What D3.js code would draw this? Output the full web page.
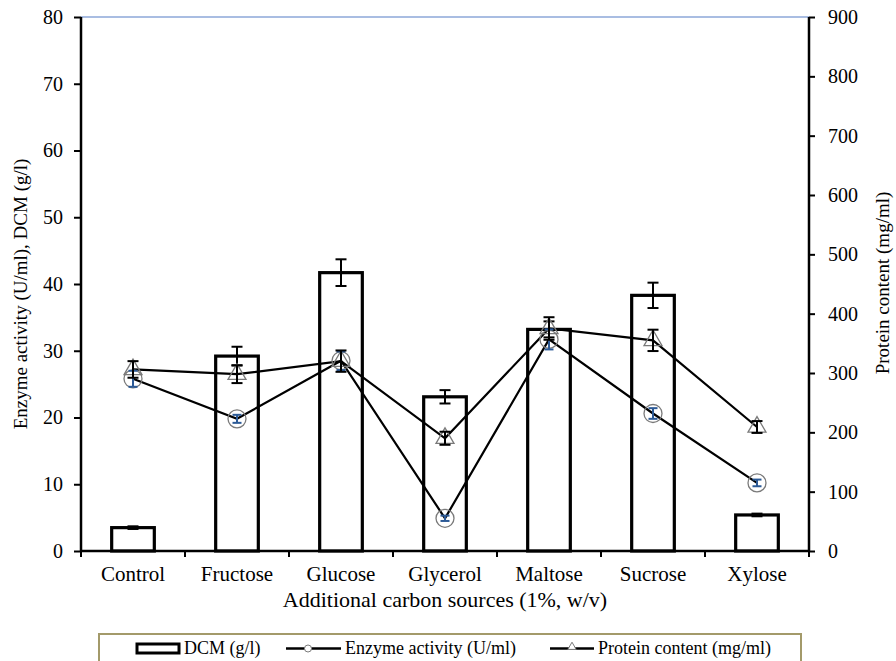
<!DOCTYPE html>
<html>
<head>
<meta charset="utf-8">
<script src="https://cdn.jsdelivr.net/npm/d3@7"></script>
<style>
    body { margin: 0; background: #fff; }
    svg text { font-family: "Liberation Serif", "Times New Roman", serif !important; }
</style>
</head>
<body>
<svg id="chart" width="896" height="661"></svg>
<script>
// values
const categories = ["Control", "Fructose", "Glucose", "Glycerol", "Maltose", "Sucrose", "Xylose"];
const dcm = [3.5, 29.2, 41.7, 23.1, 33.2, 38.3, 5.4];
const dcmErr = [0.2, 1.4, 2.0, 1.0, 1.2, 1.9, 0.2];
const enzyme = [25.8, 19.8, 28.5, 4.9, 31.7, 20.6, 10.2];
const enzymeErr = [1.2, 0.6, 1.4, 0.4, 1.5, 0.8, 0.5];
const protein = [306, 298, 320, 190, 375, 355, 209];
const proteinErr = [14, 15, 18, 11, 19, 18, 10];
const leftTicks = [0, 10, 20, 30, 40, 50, 60, 70, 80];
const rightTicks = [0, 100, 200, 300, 400, 500, 600, 700, 800, 900];

let svg = d3.select("#chart"),
    margin = {top: 17, right: 87, bottom: 110, left: 81},
    width = 896 - margin.left - margin.right,
    height = 661 - margin.top - margin.bottom,
    g = svg.append("g").attr("transform", "translate(" + margin.left + "," + margin.top + ")");

let x = d3.scaleBand().domain(categories).range([0, width]);
let yL = d3.scaleLinear().domain([0, 80]).range([height, 0]);
let yR = d3.scaleLinear().domain([0, 900]).range([height, 0]);
let barW = x.bandwidth() * 0.41;
let cx = function (i) { return x(categories[i]) + x.bandwidth() / 2; };

// top border
g.append("line")
    .attr("x1", 0).attr("x2", width)
    .attr("y1", 0).attr("y2", 0)
    .attr("stroke", "#a9bde2").attr("stroke-width", 2);

// DCM bars
g.selectAll(".bar")
    .data(dcm)
    .enter().append("rect")
    .attr("class", "bar")
    .attr("x", function (d, i) { return cx(i) - barW / 2; })
    .attr("y", function (d) { return yL(d); })
    .attr("width", barW)
    .attr("height", function (d) { return height - yL(d); })
    .attr("fill", "#fff")
    .attr("stroke", "#000")
    .attr("stroke-width", 3.2);

function errBars(vals, errs, scale, color, cap, cls) {
    let eg = g.selectAll("." + cls)
        .data(vals)
        .enter().append("g")
        .attr("class", cls)
        .attr("stroke", color)
        .attr("stroke-width", 2);
    eg.append("line")
        .attr("x1", function (d, i) { return cx(i); })
        .attr("x2", function (d, i) { return cx(i); })
        .attr("y1", function (d, i) { return scale(d - errs[i]); })
        .attr("y2", function (d, i) { return scale(d + errs[i]); });
    [1, -1].forEach(function (s) {
        eg.append("line")
            .attr("x1", function (d, i) { return cx(i) - cap; })
            .attr("x2", function (d, i) { return cx(i) + cap; })
            .attr("y1", function (d, i) { return scale(d + s * errs[i]); })
            .attr("y2", function (d, i) { return scale(d + s * errs[i]); });
    });
}

errBars(dcm, dcmErr, yL, "#000", 5.5, "err-dcm");

let line = function (scale) {
    return d3.line()
        .x(function (d, i) { return cx(i); })
        .y(function (d) { return scale(d); });
};

g.append("path")
    .datum(enzyme)
    .attr("fill", "none").attr("stroke", "#000").attr("stroke-width", 2.2)
    .attr("d", line(yL));

g.append("path")
    .datum(protein)
    .attr("fill", "none").attr("stroke", "#000").attr("stroke-width", 2.2)
    .attr("d", line(yR));

// markers
g.selectAll(".circ")
    .data(enzyme)
    .enter().append("circle")
    .attr("class", "circ")
    .attr("cx", function (d, i) { return cx(i); })
    .attr("cy", function (d) { return yL(d); })
    .attr("r", 9)
    .attr("fill", "none")
    .attr("stroke", "#7a7a7a")
    .attr("stroke-width", 1.3);

let tri = d3.symbol().type(d3.symbolTriangle).size(140);
g.selectAll(".tri")
    .data(protein)
    .enter().append("path")
    .attr("class", "tri")
    .attr("transform", function (d, i) { return "translate(" + cx(i) + "," + yR(d) + ")"; })
    .attr("d", tri)
    .attr("fill", "none")
    .attr("stroke", "#7a7a7a")
    .attr("stroke-width", 1.3);

errBars(enzyme, enzymeErr, yL, "#2c5a96", 4.5, "err-enz");
errBars(protein, proteinErr, yR, "#000", 5.5, "err-prot");

// axes
let axL = g.append("g")
    .call(d3.axisLeft(yL).tickValues(leftTicks).tickSize(7).tickPadding(11));
let axR = g.append("g")
    .attr("transform", "translate(" + width + ",0)")
    .call(d3.axisRight(yR).tickValues(rightTicks).tickSize(6).tickPadding(13));
let axB = g.append("g")
    .attr("transform", "translate(0," + height + ")")
    .call(d3.axisBottom(x).tickSize(0).tickPadding(15));

// category boundary ticks on x axis
axB.selectAll(".bound")
    .data(d3.range(categories.length + 1))
    .enter().append("line")
    .attr("class", "bound")
    .attr("x1", function (d) { return d * x.step(); })
    .attr("x2", function (d) { return d * x.step(); })
    .attr("y1", 0).attr("y2", 6)
    .attr("stroke", "#000").attr("stroke-width", 2);

[axL, axR, axB].forEach(function (a) {
    a.attr("font-family", "Liberation Serif, serif");
    a.select(".domain").attr("stroke", "#000").attr("stroke-width", 2.5);
    a.selectAll(".tick line").attr("stroke", "#000").attr("stroke-width", 2);
    a.selectAll("text").attr("fill", "#000");
});
axL.attr("font-size", 20);
axR.attr("font-size", 20);
axB.attr("font-size", 21);
axL.select(".domain").attr("d", "M0," + height + "V0");
axR.select(".domain").attr("d", "M0," + height + "V0");
axB.select(".domain").attr("d", "M0,0H" + width);

// axis titles
svg.append("text")
    .attr("transform", "translate(27,294) rotate(-90)")
    .attr("text-anchor", "middle")
    .style("font-size", "19px")
    .text("Enzyme activity (U/ml), DCM (g/l)");

svg.append("text")
    .attr("transform", "translate(889,283) rotate(-90)")
    .attr("text-anchor", "middle")
    .style("font-size", "19px")
    .text("Protein content (mg/ml)");

svg.append("text")
    .attr("x", 445).attr("y", 607)
    .attr("text-anchor", "middle")
    .style("font-size", "22px")
    .text("Additional carbon sources (1%, w/v)");

// legend
let lg = svg.append("g");
lg.append("rect")
    .attr("x", 99).attr("y", 634)
    .attr("width", 702).attr("height", 40)
    .attr("fill", "#fff")
    .attr("stroke", "#a39a6a").attr("stroke-width", 2);

lg.append("rect")
    .attr("x", 137).attr("y", 644)
    .attr("width", 42).attr("height", 9)
    .attr("fill", "#fff").attr("stroke", "#000").attr("stroke-width", 3);
lg.append("text").attr("x", 184).attr("y", 654).style("font-size", "18px").text("DCM (g/l)");

lg.append("line")
    .attr("x1", 286).attr("x2", 341).attr("y1", 648.5).attr("y2", 648.5)
    .attr("stroke", "#000").attr("stroke-width", 2.5);
lg.append("circle")
    .attr("cx", 308).attr("cy", 648.5).attr("r", 3.5)
    .attr("fill", "#fff").attr("stroke", "#7a7a7a").attr("stroke-width", 1);
lg.append("text").attr("x", 345).attr("y", 654).style("font-size", "18px").text("Enzyme activity (U/ml)");

lg.append("line")
    .attr("x1", 550).attr("x2", 594).attr("y1", 648.5).attr("y2", 648.5)
    .attr("stroke", "#000").attr("stroke-width", 2.5);
lg.append("path")
    .attr("transform", "translate(572,647)")
    .attr("d", d3.symbol().type(d3.symbolTriangle).size(30))
    .attr("fill", "#fff").attr("stroke", "#7a7a7a").attr("stroke-width", 1);
lg.append("text").attr("x", 598).attr("y", 654).style("font-size", "18px").text("Protein content (mg/ml)");
</script>
</body>
</html>
